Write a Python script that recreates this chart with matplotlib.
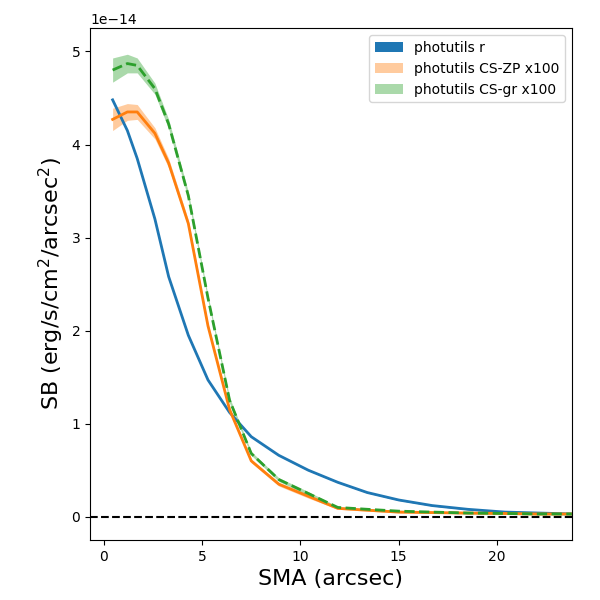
import numpy as np
import matplotlib
matplotlib.use("Agg")
import matplotlib.pyplot as plt

sma = [0.45, 1.2, 1.7, 2.6, 3.3, 4.3, 5.3, 6.4, 7.5, 8.9, 10.4, 11.9, 13.4, 15.0, 16.7, 18.5, 20.4, 22.1, 23.8]
sb_r = [4.48, 4.15, 3.85, 3.2, 2.58, 1.95, 1.47, 1.12, 0.86, 0.66, 0.50, 0.37, 0.26, 0.18, 0.12, 0.08, 0.05, 0.04, 0.03]
err_r = [0.005]*19
sb_zp = [4.27, 4.35, 4.35, 4.12, 3.8, 3.15, 2.05, 1.15, 0.6, 0.35, 0.22, 0.09, 0.07, 0.05, 0.045, 0.04, 0.035, 0.03, 0.03]
err_zp = [0.12, 0.09, 0.08, 0.06, 0.05, 0.04, 0.03, 0.03, 0.02, 0.02, 0.02, 0.01, 0.01, 0.01, 0.01, 0.01, 0.01, 0.01, 0.01]
sb_gr = [4.8, 4.87, 4.85, 4.6, 4.22, 3.45, 2.35, 1.25, 0.68, 0.4, 0.25, 0.1, 0.08, 0.06, 0.05, 0.04, 0.035, 0.03, 0.03]
err_gr = [0.13, 0.1, 0.08, 0.06, 0.05, 0.04, 0.03, 0.03, 0.02, 0.02, 0.02, 0.01, 0.01, 0.01, 0.01, 0.01, 0.01, 0.01, 0.01]

x = np.array(sma)
s = 1e-14
fig, ax = plt.subplots(figsize=(6, 6), dpi=100)
fig.subplots_adjust(left=0.15, right=0.953, top=0.953, bottom=0.1)
for y, e, c, ls, lab in [(sb_r, err_r, 'C0', '-', 'photutils r'),
                         (sb_zp, err_zp, 'C1', '-', 'photutils CS-ZP x100'),
                         (sb_gr, err_gr, 'C2', '--', 'photutils CS-gr x100')]:
    y = np.array(y)*s; e = np.array(e)*s
    alpha = 1.0 if c == 'C0' else 0.4
    ax.fill_between(x, y-e, y+e, color=c, alpha=alpha, label=lab, lw=0)
    ax.plot(x, y, color=c, ls=ls, lw=2)
ax.axhline(0, color='k', ls='--')
ax.set_xlim(-0.7, 23.8)
ax.set_ylim(-0.25e-14, 5.25e-14)
ax.set_xlabel('SMA (arcsec)', fontsize=16)
ax.set_ylabel('SB (erg/s/cm$^2$/arcsec$^2$)', fontsize=16)
ax.legend(loc='upper right')
plt.savefig('out.png')
